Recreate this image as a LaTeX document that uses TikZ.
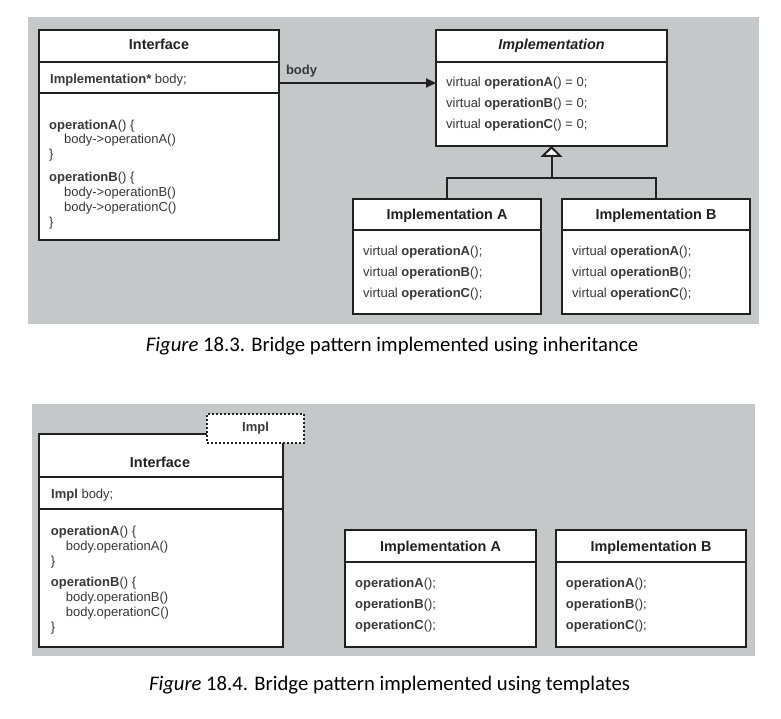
\documentclass[tikz,border=0pt]{standalone}
\usepackage{fontspec}
\setmainfont{Liberation Sans}
\newfontfamily\captionfont{Carlito}
\usepackage{xcolor}
\usepackage{tikz}
\usetikzlibrary{arrows.meta}
\definecolor{cgcgcg}{rgb}{0.7725,0.7843,0.7882}
\definecolor{sqsqsq}{rgb}{0.13,0.13,0.13}
\definecolor{wrwrwr}{rgb}{0.22,0.22,0.22}
\tikzstyle{every node}=[font=\fontsize{13}{15}\selectfont, text=wrwrwr]
\tikzstyle{compart}=[draw=sqsqsq, line width=2pt, fill=white, inner sep=0pt, outer sep=0pt, anchor=north west]
\tikzstyle{classname}=[font=\fontsize{14.4}{16}\selectfont\bfseries, text=sqsqsq, inner sep=0pt, anchor=base]
\tikzstyle{member}=[inner sep=0pt, anchor=base west]
\tikzstyle{opslist}=[font=\fontsize{13}{21}\selectfont, inner sep=0pt, anchor=north west, align=left]
\tikzstyle{codelist}=[font=\fontsize{13}{14.8}\selectfont, inner sep=0pt, anchor=north west, align=left]
\tikzstyle{conn}=[draw=sqsqsq, line width=2pt]
\tikzstyle{caption}=[font=\captionfont\fontsize{20.7}{24}\selectfont, text=black, inner sep=0pt, anchor=base]

\begin{document}
\begin{tikzpicture}[line join=miter,x=1pt,y=-1pt]
\useasboundingbox (0,0) rectangle (781,719);
% grey backgrounds
\fill[color=cgcgcg] (28,17) rectangle (759,324);
\fill[color=cgcgcg] (32,404) rectangle (755,656);

% figure 18.3
\node[compart, minimum width=240, minimum height=32] (ifhead) at (39,30) {};
\node[compart, minimum width=240, minimum height=31] (iffield) at (39,62) {};
\node[compart, minimum width=240, minimum height=147] (ifops) at (39,93) {};
\node[classname] (ifname) at (159,50) {Interface};
\node[member] (ifbody) at (50,84) {\textbf{Implementation*} body;};
\node[codelist] (ifcode) at (49,119.5) {\textbf{operationA}() \{\\ \hspace*{15pt}body->operationA()\\ \}\\[8.3pt] \textbf{operationB}() \{\\ \hspace*{15pt}body->operationB()\\ \hspace*{15pt}body->operationC()\\ \}};

\node[compart, minimum width=231, minimum height=32] (implhead) at (436,30) {};
\node[compart, minimum width=231, minimum height=84] (implops) at (436,62) {};
\node[classname] (implname) at (551.5,50) {\textit{Implementation}};
\node[opslist] (implcode) at (446,76.5) {virtual \textbf{operationA}() = 0;\\ virtual \textbf{operationB}() = 0;\\ virtual \textbf{operationC}() = 0;};

\node[compart, minimum width=188, minimum height=31] (implAhead) at (353,199) {};
\node[compart, minimum width=188, minimum height=84] (implAops) at (353,230) {};
\node[classname] (implAname) at (447,220) {Implementation A};
\node[opslist] (implAcode) at (363,245.5) {virtual \textbf{operationA}();\\ virtual \textbf{operationB}();\\ virtual \textbf{operationC}();};

\node[compart, minimum width=188, minimum height=31] (implBhead) at (562,199) {};
\node[compart, minimum width=188, minimum height=84] (implBops) at (562,230) {};
\node[classname] (implBname) at (656,220) {Implementation B};
\node[opslist] (implBcode) at (572,245.5) {virtual \textbf{operationA}();\\ virtual \textbf{operationB}();\\ virtual \textbf{operationC}();};

\coordinate (bodystart) at ([yshift=-5.5pt]iffield.east);
\draw[conn, -{Triangle[length=10pt,width=9pt]}] (bodystart) -- (bodystart -| implops.west)
  node[pos=0, anchor=base west, inner sep=0pt, xshift=6pt, yshift=8pt, font=\fontsize{13}{15}\selectfont\bfseries] (bodylabel) {body};
\coordinate (fork) at (551.5,178);
\draw[conn] (implAhead.north) |- (fork) -| (implBhead.north);
\draw[conn, -{Triangle[open, fill=white, length=11pt, width=22pt]}] (fork) -- (implops.south);

\node[caption] (cap1) at (392,351.7) {\textit{Figure} 18.3. Bridge pattern implemented using inheritance};

% figure 18.4
\node[compart, minimum width=243.5, minimum height=43] (tifhead) at (39,434) {};
\node[compart, minimum width=243.5, minimum height=32] (tiffield) at (39,477) {};
\node[compart, minimum width=243.5, minimum height=138] (tifops) at (39,509) {};
\node[classname] (tifname) at (160,467.3) {Interface};
\node[member] (tifbody) at (51,498.3) {\textbf{Impl} body;};
\node[codelist, font=\fontsize{13}{15}\selectfont] (tifcode) at (50.7,525.5) {\textbf{operationA}() \{\\ \hspace*{15pt}body.operationA()\\ \}\\[6.7pt] \textbf{operationB}() \{\\ \hspace*{15pt}body.operationB()\\ \hspace*{15pt}body.operationC()\\ \}};
\node[compart, dash pattern=on 2pt off 2pt, minimum width=97, minimum height=29, font=\fontsize{13}{15}\selectfont\bfseries] (implparam) at (207,414) {Impl};

\node[compart, minimum width=191, minimum height=32] (timplAhead) at (345,530) {};
\node[compart, minimum width=191, minimum height=85] (timplAops) at (345,562) {};
\node[classname] (timplAname) at (440.5,551.7) {Implementation A};
\node[opslist] (timplAcode) at (355,578.2) {\textbf{operationA}();\\ \textbf{operationB}();\\ \textbf{operationC}();};

\node[compart, minimum width=190, minimum height=32] (timplBhead) at (556,530) {};
\node[compart, minimum width=190, minimum height=85] (timplBops) at (556,562) {};
\node[classname] (timplBname) at (651,551.7) {Implementation B};
\node[opslist] (timplBcode) at (565.7,578.2) {\textbf{operationA}();\\ \textbf{operationB}();\\ \textbf{operationC}();};

\node[caption] (cap2) at (389.5,690) {\textit{Figure} 18.4. Bridge pattern implemented using templates};
\end{tikzpicture}
\end{document}
